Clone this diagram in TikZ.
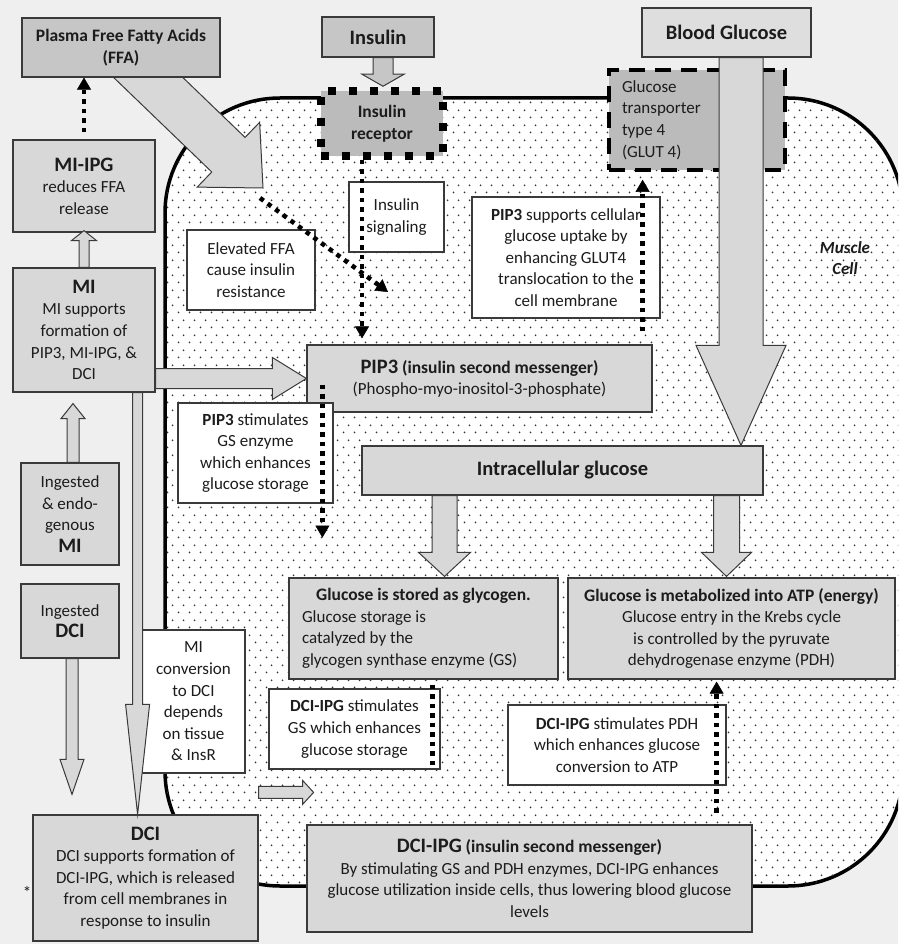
\documentclass[tikz,border=0pt]{standalone}
\usepackage{fontspec}
\setmainfont{Carlito}
\usetikzlibrary{arrows.meta,calc,patterns.meta}

\definecolor{paper}{HTML}{EFEFEF}
\definecolor{boxgray}{HTML}{D8D8D8}
\definecolor{lightgray}{HTML}{DEDEDE}
\definecolor{topgray}{HTML}{C6C6C6}
\definecolor{recgray}{HTML}{BBBBBB}
\definecolor{edgegray}{HTML}{3A3A3A}
\definecolor{inkgray}{HTML}{1C1C1C}

\newcommand{\hdfont}{\fontsize{20.5}{24}\selectfont\bfseries}
\newcommand{\subhdfont}{\fontsize{17.5}{21.6}\selectfont\bfseries}
\newcommand{\txtfont}{\fontsize{17}{21.6}\selectfont}
\newcommand{\glyline}[1]{\makebox[243pt][l]{#1}}
\newcommand{\glutline}[1]{\makebox[150pt][l]{#1}}

\tikzdeclarepattern{
  name=celldots, type=uncolored,
  bottom left={(0pt,0pt)}, top right={(11pt,14.6pt)},
  tile size={(11pt,14.6pt)},
  code={
    \pgfpathcircle{\pgfpoint{2.75pt}{3.65pt}}{1pt}
    \pgfpathcircle{\pgfpoint{8.25pt}{10.95pt}}{1pt}
    \pgfusepath{fill}
  }
}

% block arrow: [style]{start}{tip}{shaft half width}{head half width}{head length}
\newcommand{\blockarrow}[6][]{%
  \coordinate (bas) at #2;
  \coordinate (bae) at #3;
  \coordinate (bah) at ($(bae)!#6!(bas)$);
  \filldraw[blk,#1] ($(bas)!#4!90:(bae)$) -- ($(bah)!#4!90:(bae)$)
    -- ($(bah)!#5!90:(bae)$) -- (bae) -- ($(bah)!#5!-90:(bae)$)
    -- ($(bah)!#4!-90:(bae)$) -- ($(bas)!#4!-90:(bae)$) -- cycle;
}

\begin{document}
\begin{tikzpicture}[x=1pt, y=-1pt,
    box/.style={rectangle, draw=edgegray, line width=1.2pt, inner sep=0pt,
                align=center, font=\txtfont, text=inkgray},
    graybox/.style={box, fill=boxgray},
    notebox/.style={box, fill=white},
    blk/.style={fill=boxgray, draw=edgegray, line width=1pt, line join=miter},
    dotline/.style={draw=black, line width=4.5pt, dash pattern=on 4.5pt off 5pt},
    dotarr/.style={dotline, -{Triangle[length=12pt, width=14pt, line width=0.5pt]}}
  ]
  \useasboundingbox (0,0) rectangle (898,944);
  \clip (0,0) rectangle (898,944);
  \fill[paper] (0,0) rectangle (898,944);

  %% ── muscle cell ─────────────────────────────────────────────────────
  \draw[line width=3.5pt, fill=white, rounded corners=115pt,
        postaction={pattern=celldots, pattern color=black!80}]
    (165,98) rectangle (903,886);
  \node[font=\fontsize{17}{21.5}\selectfont\bfseries\itshape, align=center,
        text=inkgray] (cell) at (845,258) {Muscle\\Cell};

  %% ── FFA arrow (under its box) ───────────────────────────────────────
  \coordinate (ffaout) at (128,58);
  \coordinate (ffain)  at (263,188);
  \blockarrow{(ffaout)}{(ffain)}{24pt}{45pt}{48pt}

  %% ── outside the cell (top) ──────────────────────────────────────────
  \node[box, fill=topgray, minimum width=198pt, minimum height=59pt,
        font=\subhdfont] (ffa) at (121,47.5) {Plasma Free Fatty Acids\\(FFA)};
  \node[box, fill=topgray, minimum width=112pt, minimum height=40pt,
        font=\hdfont] (insulin) at (378,37) {Insulin};
  \node[box, fill=lightgray, minimum width=169pt, minimum height=49pt,
        font=\hdfont] (blood) at (726.5,32.5) {Blood Glucose};
  \node[box, fill=recgray, draw=black, line width=7.5pt, dash pattern=on 8pt off 13pt,
        minimum width=122pt, minimum height=65pt,
        font=\subhdfont] (receptor) at (382,123.5) {Insulin\\receptor};
  \node[box, fill=recgray, draw=black, line width=3.5pt, dash pattern=on 16pt off 10pt,
        minimum width=176pt, minimum height=100pt] (glut) at (697,120)
    {\glutline{Glucose}\\\glutline{transporter}\\\glutline{type 4}\\\glutline{(GLUT 4)}};

  %% ── left column ─────────────────────────────────────────────────────
  \node[graybox, minimum width=142pt, minimum height=92pt] (mipg) at (84,186)
    {{\hdfont MI-IPG}\\reduces FFA\\release};
  \node[graybox, minimum width=142pt, minimum height=124pt] (mi) at (84,330)
    {{\hdfont MI}\\MI supports\\formation of\\PIP3, MI-IPG, \&\\DCI};
  \node[graybox, minimum width=98pt, minimum height=102pt] (ingmi) at (70,514)
    {Ingested\\\& endo-\\genous\\{\hdfont MI}};
  \node[graybox, minimum width=98pt, minimum height=74pt] (ingdci) at (70,621)
    {Ingested\\{\hdfont DCI}};
  \node[graybox, minimum width=225pt, minimum height=126pt] (dci) at (145.5,878)
    {{\hdfont DCI}\\DCI supports formation of\\DCI-IPG, which is released\\from cell membranes in\\response to insulin};
  \node[font=\txtfont, text=inkgray] (star) at (27,892) {*};

  %% ── inside the cell ─────────────────────────────────────────────────
  \node[notebox, minimum width=103pt, minimum height=143pt] (conv) at (193.5,701.5)
    {MI\\conversion\\to DCI\\depends\\on tissue\\\& InsR};
  \node[notebox, minimum width=128pt, minimum height=80pt] (elev) at (251,270)
    {Elevated FFA\\cause insulin\\resistance};
  \node[notebox, minimum width=95pt, minimum height=70pt] (signal) at (396.5,217)
    {Insulin\\signaling};
  \node[notebox, minimum width=188pt, minimum height=121pt] (pipsup) at (566,257.5)
    {{\bfseries PIP3} supports cellular\\glucose uptake by\\enhancing GLUT4\\translocation to the\\cell membrane};
  \node[graybox, minimum width=345pt, minimum height=67pt] (pip) at (479.5,378.5)
    {{\hdfont PIP3} {\subhdfont (insulin second messenger)}\\(Phospho-myo-inositol-3-phosphate)};
  \node[notebox, minimum width=155pt, minimum height=100pt] (pipgs) at (255.5,453)
    {{\bfseries PIP3} stimulates\\GS enzyme\\which enhances\\glucose storage};
  \node[graybox, minimum width=401pt, minimum height=49pt,
        font=\hdfont] (intra) at (562.5,470.5) {Intracellular glucose};
  \node[graybox, minimum width=269pt, minimum height=101pt] (glyco) at (423.5,628.5)
    {{\subhdfont Glucose is stored as glycogen.}\\\glyline{Glucose storage is}\\
     \glyline{catalyzed by the}\\\glyline{glycogen synthase enzyme (GS)}};
  \node[graybox, minimum width=327pt, minimum height=101pt] (atp) at (731.5,628.5)
    {{\subhdfont Glucose is metabolized into ATP (energy)}\\Glucose entry in the Krebs cycle\\is controlled by the pyruvate\\dehydrogenase enzyme (PDH)};
  \node[notebox, minimum width=171pt, minimum height=80pt] (dcigs) at (354.5,729)
    {{\bfseries DCI-IPG} stimulates\\GS which enhances\\glucose storage};
  \node[notebox, minimum width=218pt, minimum height=80pt] (dcipdh) at (617,745)
    {{\bfseries DCI-IPG} stimulates PDH\\which enhances glucose\\conversion to ATP};
  \node[graybox, minimum width=445pt, minimum height=107pt] (dciipg) at (529.5,878.5)
    {{\hdfont DCI-IPG} {\subhdfont (insulin second messenger)}\\By stimulating GS and PDH enzymes, DCI-IPG enhances\\glucose utilization inside cells, thus lowering blood glucose\\levels};

  %% ── block arrows ────────────────────────────────────────────────────
  \coordinate (insdown) at ([xshift=5pt]insulin.south);
  \blockarrow[fill=topgray]{(insdown)}{($(insdown |- receptor.north)+(0,-1)$)}{10pt}{21pt}{12pt}
  \coordinate (bgdown) at ([xshift=14.5pt]blood.south);
  \blockarrow{(bgdown)}{(bgdown |- intra.north)}{22pt}{45pt}{100pt}
  \blockarrow{(mi.east |- pip.west)}{(pip.west)}{10pt}{21pt}{34pt}
  \blockarrow{(mi.north)}{($(mipg.south)+(0,-2)$)}{5pt}{12.5pt}{10pt}
  \coordinate (ingup) at ([xshift=3pt]ingmi.north);
  \blockarrow{(ingup)}{($(ingup |- mi.south)+(0,11)$)}{6pt}{12pt}{15pt}
  \coordinate (ingdn) at ([xshift=2pt]ingdci.south);
  \blockarrow{(ingdn)}{($(ingdn |- dci.north)+(0,-20)$)}{6pt}{12pt}{35pt}
  \coordinate (midn) at ([xshift=-18pt]mi.south east);
  \blockarrow{(midn)}{(midn |- dci.north)}{5pt}{12pt}{110pt}
  \coordinate (glydn) at ([xshift=21pt]glyco.north);
  \blockarrow{(glydn |- intra.south)}{($(glydn)+(0,-1)$)}{12.5pt}{26pt}{24pt}
  \coordinate (atpdn) at ([xshift=-5pt]atp.north);
  \blockarrow{(atpdn |- intra.south)}{($(atpdn)+(0,-1)$)}{13pt}{25pt}{24pt}
  \coordinate (dcistub) at ($(dci.north east)+(0,-22)$);
  \blockarrow{(dcistub)}{($(dcistub)+(55,0)$)}{6pt}{12pt}{11pt}

  %% ── dotted signals ──────────────────────────────────────────────────
  \draw[dotarr] ([yshift=7pt]mipg.north) -- (mipg.north |- ffa.south);
  \coordinate (resist) at (388,292);
  \draw[dotarr] ($(ffain)+(-3,10)$) -- (resist);
  \coordinate (recdot) at ([xshift=-20pt]receptor.south);
  \draw[dotarr] (recdot) -- ($(recdot |- pip.north)+(0,-6)$);
  \coordinate (pipup) at ([xshift=-10pt]pip.north east);
  \draw[dotarr] ($(pipup)+(0,-13)$) -- ($(pipup |- glut.south)+(0,8)$);
  \coordinate (pipdn) at ([xshift=16pt]pip.west);
  \draw[dotarr] ($(pipdn)+(0,6)$) -- ($(pipdn |- pipgs.south)+(0,34)$);
  \coordinate (gsdot) at ([xshift=-8pt]dcigs.north east);
  \draw[dotline] ($(gsdot |- glyco.south)+(0,5)$) -- ($(gsdot |- dcigs.south)+(0,-5)$);
  \coordinate (pdhdot) at ([xshift=-10pt]dcipdh.south east);
  \draw[dotarr] ($(pdhdot)+(0,27)$) -- ($(pdhdot |- atp.south)+(0,2)$);

\end{tikzpicture}
\end{document}
